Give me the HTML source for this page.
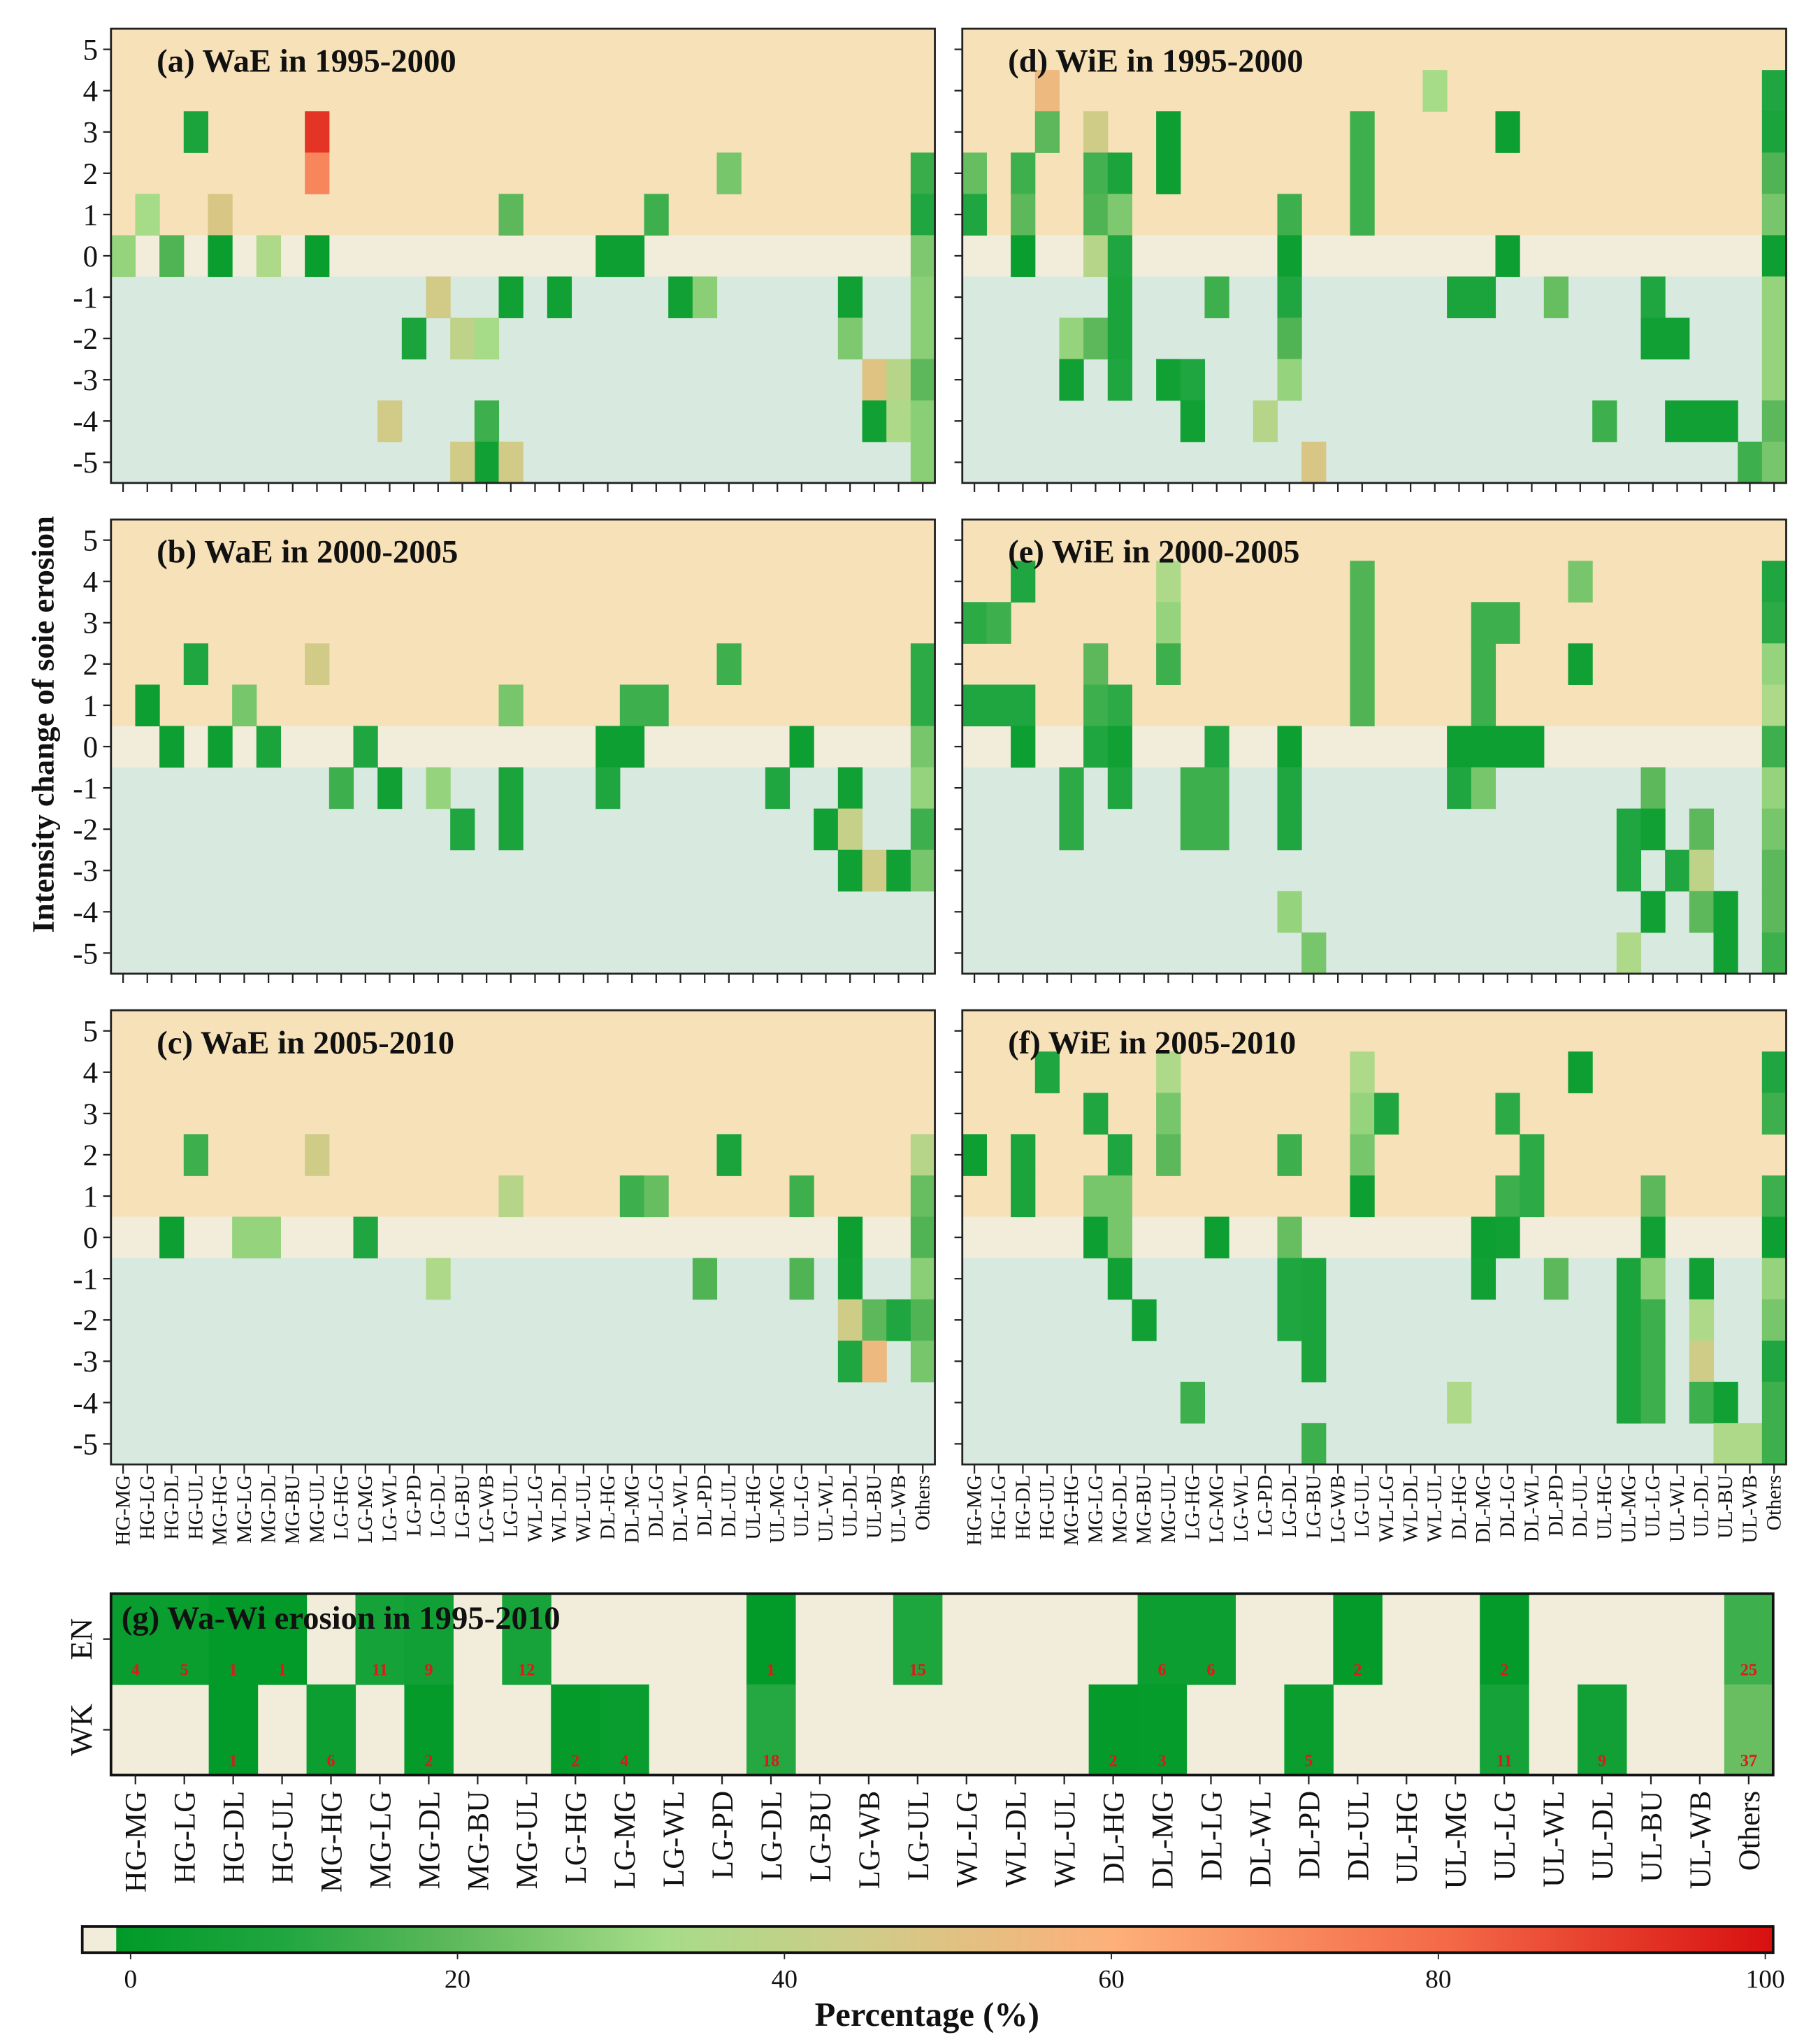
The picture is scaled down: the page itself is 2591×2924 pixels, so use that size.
<!DOCTYPE html>
<html><head><meta charset="utf-8"><style>
html,body{margin:0;padding:0;background:#fff}
svg{display:block}
text{font-family:"Liberation Serif",serif;fill:#111}
</style></head><body>
<svg id="chart" xmlns="http://www.w3.org/2000/svg" width="2591" height="2924" viewBox="0 0 1387 1566" preserveAspectRatio="none">
<defs>
<linearGradient id="cbg" x1="0" x2="1" y1="0" y2="0">
<stop offset="0" stop-color="#009a28"/><stop offset="0.1" stop-color="#20a640"/><stop offset="0.2" stop-color="#5cb85a"/>
<stop offset="0.33" stop-color="#a6dc88"/><stop offset="0.45" stop-color="#cfcc88"/><stop offset="0.6" stop-color="#fdb07a"/>
<stop offset="0.8" stop-color="#f46a48"/><stop offset="1" stop-color="#d81010"/>
</linearGradient>
</defs>
<g id="root"></g>
</svg>
<script>
const categories=["HG-MG","HG-LG","HG-DL","HG-UL","MG-HG","MG-LG","MG-DL","MG-BU","MG-UL","LG-HG","LG-MG","LG-WL","LG-PD","LG-DL","LG-BU","LG-WB","LG-UL","WL-LG","WL-DL","WL-UL","DL-HG","DL-MG","DL-LG","DL-WL","DL-PD","DL-UL","UL-HG","UL-MG","UL-LG","UL-WL","UL-DL","UL-BU","UL-WB","Others"];
const yTicks=[5,4,3,2,1,0,-1,-2,-3,-4,-5];
const cbTicks=[0,20,40,60,80,100];
// [column index, intensity change, percentage]
const panelA=[[3,3,8],[8,3,92],[8,2,72],[1,1,33],[4,1,48],[0,0,30],[2,0,18],[4,0,3],[6,0,35],[8,0,3],[16,1,20],[16,-1,5],[18,-1,5],[20,0,4],[21,0,4],[22,1,15],[25,2,25],[23,-1,5],[24,-1,28],[13,-1,46],[12,-2,8],[14,-2,40],[15,-2,33],[15,-4,15],[15,-5,5],[11,-4,46],[14,-5,46],[16,-5,46],[30,-1,5],[30,-2,26],[31,-3,50],[31,-4,5],[32,-3,38],[32,-4,35],[33,2,14],[33,1,10],[33,0,26],[33,-1,28],[33,-2,28],[33,-3,20],[33,-4,28],[33,-5,28]];
const panelD=[[0,2,22],[0,1,10],[2,2,15],[2,1,20],[2,0,3],[3,4,55],[3,3,20],[5,3,45],[5,2,16],[5,1,18],[5,0,38],[4,-2,30],[4,-3,5],[5,-2,20],[6,2,8],[6,1,26],[6,0,10],[6,-1,8],[6,-2,8],[6,-3,10],[8,3,4],[8,2,4],[8,-3,5],[9,-3,10],[9,-4,5],[10,-1,15],[12,-4,38],[13,1,15],[13,0,4],[13,-1,10],[13,-2,18],[13,-3,30],[14,-5,48],[16,3,15],[16,2,15],[16,1,15],[19,4,33],[20,-1,8],[21,-1,8],[22,3,4],[22,0,4],[24,-1,22],[26,-4,15],[28,-1,10],[28,-2,5],[29,-2,5],[29,-4,5],[30,-4,5],[31,-4,5],[32,-5,15],[33,4,10],[33,3,8],[33,2,18],[33,1,25],[33,0,4],[33,-1,30],[33,-2,30],[33,-3,30],[33,-4,20],[33,-5,25]];
const panelB=[[1,1,4],[2,0,4],[3,2,10],[4,0,4],[5,1,25],[6,0,8],[8,2,46],[9,-1,15],[10,0,10],[11,-1,5],[13,-1,30],[14,-2,10],[16,1,25],[16,-1,8],[16,-2,8],[20,0,4],[20,-1,10],[21,1,15],[21,0,4],[22,1,15],[25,2,15],[28,0,4],[27,-1,10],[29,-2,5],[30,-1,5],[30,-2,42],[30,-3,5],[31,-3,45],[32,-3,5],[33,2,12],[33,1,12],[33,0,25],[33,-1,30],[33,-2,15],[33,-3,25]];
const panelE=[[0,3,12],[0,1,10],[1,3,15],[1,1,10],[2,4,10],[2,1,10],[2,0,4],[5,2,20],[5,1,15],[5,0,10],[6,1,12],[6,0,5],[6,-1,10],[8,4,35],[8,3,30],[8,2,15],[4,-1,12],[4,-2,12],[9,-1,15],[9,-2,15],[10,0,10],[10,-1,15],[10,-2,15],[13,0,4],[13,-1,10],[13,-2,10],[13,-4,30],[14,-5,25],[16,4,18],[16,3,18],[16,2,18],[16,1,18],[21,3,15],[21,2,15],[21,1,15],[21,0,4],[22,3,15],[22,0,4],[20,0,4],[20,-1,10],[21,-1,25],[23,0,4],[25,4,25],[25,2,5],[27,-2,10],[27,-3,10],[27,-5,35],[28,-1,20],[28,-2,5],[28,-4,5],[29,-3,10],[30,-2,20],[30,-3,40],[30,-4,20],[31,-4,5],[31,-5,5],[33,4,10],[33,3,12],[33,2,30],[33,1,35],[33,0,15],[33,-1,30],[33,-2,25],[33,-3,20],[33,-4,20],[33,-5,15]];
const panelC=[[2,0,4],[3,2,15],[5,0,30],[6,0,30],[8,2,45],[10,0,10],[13,-1,35],[16,1,38],[21,1,15],[22,1,22],[24,-1,18],[25,2,8],[28,1,15],[28,-1,18],[30,0,4],[30,-1,5],[30,-2,45],[30,-3,10],[31,-2,20],[31,-3,55],[32,-2,10],[33,2,38],[33,1,22],[33,0,18],[33,-1,28],[33,-2,18],[33,-3,25]];
const panelF=[[0,2,4],[2,2,8],[2,1,8],[3,4,10],[5,3,10],[5,1,25],[5,0,4],[6,2,10],[6,1,25],[6,0,25],[6,-1,5],[7,-2,5],[8,4,35],[8,3,25],[8,2,20],[10,0,4],[9,-4,15],[13,2,15],[13,0,22],[13,-1,10],[13,-2,10],[14,-1,8],[14,-2,8],[14,-3,8],[14,-5,15],[16,4,35],[16,3,30],[16,2,25],[16,1,4],[17,3,10],[20,-4,35],[21,0,4],[21,-1,5],[22,3,12],[22,1,15],[22,0,5],[23,2,12],[23,1,12],[24,-1,20],[25,4,4],[27,-1,8],[27,-2,8],[27,-3,8],[27,-4,8],[28,1,20],[28,0,5],[28,-1,28],[28,-2,15],[28,-3,15],[28,-4,15],[30,-1,5],[30,-2,35],[30,-3,45],[30,-4,15],[31,-4,5],[31,-5,35],[32,-5,35],[33,4,10],[33,3,15],[33,1,15],[33,0,4],[33,-1,30],[33,-2,25],[33,-3,10],[33,-4,15],[33,-5,15]];
// panel g: [column, value]
const gEN=[[0,4],[1,5],[2,1],[3,1],[5,11],[6,9],[8,12],[13,1],[16,15],[21,6],[22,6],[25,2],[28,2],[33,25]];
const gWK=[[2,1],[4,6],[6,2],[9,2],[10,4],[13,18],[20,2],[21,3],[24,5],[28,11],[30,9],[33,37]];

const NS="http://www.w3.org/2000/svg";
const root=document.getElementById('root');
function el(tag,attrs,parent,txt){const e=document.createElementNS(NS,tag);for(const k in attrs)e.setAttribute(k,attrs[k]);if(txt!==undefined)e.textContent=txt;(parent||root).appendChild(e);return e;}
const stops=[[0,[0,154,40]],[10,[32,166,64]],[20,[92,184,90]],[33,[166,220,136]],[45,[207,204,136]],[60,[253,176,122]],[80,[244,106,72]],[100,[216,16,16]]];
function cscale(v){v=Math.max(0,Math.min(100,v));for(let i=1;i<stops.length;i++){if(v<=stops[i][0]){const a=stops[i-1],b=stops[i],t=(v-a[0])/(b[0]-a[0]);const c=a[1].map((x,j)=>Math.round(x+(b[1][j]-x)*t));return `rgb(${c[0]},${c[1]},${c[2]})`;}}return 'rgb(216,16,16)';}

const ROWH=348/11, PW=631;
function drawPanel(x0,y0,title,cells,name,showX,showY){
  const g=el('g',{});
  
  
  const cw=PW/categories.length;
  const yOf=v=>y0+(5-v)*ROWH;
  el('rect',{x:x0,y:y0,width:PW,height:yOf(0)-y0,fill:'#f6e1b8'},g);
  el('rect',{x:x0,y:yOf(0),width:PW,height:ROWH,fill:'#f2ecda'},g);
  el('rect',{x:x0,y:yOf(-1),width:PW,height:yOf(-6)-yOf(-1),fill:'#d8e9e0'},g);
  cells.forEach(c=>{
    const r=el('rect',{x:x0+c[0]*cw,y:yOf(c[1]),width:cw+0.3,height:ROWH+0.3,fill:cscale(c[2])},g);
    
    
  });
  el('rect',{x:x0,y:y0,width:PW,height:348,fill:'none',stroke:'#222','stroke-width':1.5},g);
  yTicks.forEach(v=>{
    const yc=yOf(v)+ROWH/2;
    el('line',{x1:x0-6,x2:x0,y1:yc,y2:yc,stroke:'#222','stroke-width':1.2},g);
    if(showY){
      const t=el('text',{x:x0-10,y:yc+8,'text-anchor':'end','font-size':23},g,String(v));
      
      
    }
  });
  categories.forEach((c,i)=>{
    const xc=x0+(i+0.5)*cw;
    el('line',{x1:xc,x2:xc,y1:y0+348,y2:y0+355,stroke:'#222','stroke-width':1.2},g);
    if(showX){
      const t=el('text',{x:0,y:0,'text-anchor':'end','font-size':16,transform:`translate(${xc+5},${y0+356}) rotate(-90)`},g,c);
      
      
    }
  });
  const tt=el('text',{x:x0+35,y:y0+33,'font-size':25,'font-weight':'bold'},g,title);
  
  
}
drawPanel(85,22,'(a) WaE in 1995-2000',panelA,'panel-a',false,true);
drawPanel(737,22,'(d) WiE in 1995-2000',panelD,'panel-d',false,false);
drawPanel(85,398,'(b) WaE in 2000-2005',panelB,'panel-b',false,true);
drawPanel(737,398,'(e) WiE in 2000-2005',panelE,'panel-e',false,false);
drawPanel(85,774,'(c) WaE in 2005-2010',panelC,'panel-c',true,true);
drawPanel(737,774,'(f) WiE in 2005-2010',panelF,'panel-f',true,false);

const yt=el('text',{x:0,y:0,'text-anchor':'middle','font-size':24,'font-weight':'bold',transform:'translate(41,555) rotate(-90)'},root,'Intensity change of soie erosion');



// panel g
(function(){
  const x0=85,y0=1221,W=1273,H=139,cw=W/categories.length,rh=H/2;
  const g=el('g',{});
  
  
  el('rect',{x:x0,y:y0,width:W,height:H,fill:'#f2ecda'},g);
  [[gEN,0],[gWK,1]].forEach(([arr,ri])=>{
    arr.forEach(c=>{
      const r=el('rect',{x:x0+c[0]*cw,y:y0+ri*rh,width:cw+0.3,height:rh+0.3,fill:cscale(c[1]*0.6)},g);
      
      
    });
  });
  [[gEN,0],[gWK,1]].forEach(([arr,ri])=>{
    arr.forEach(c=>{
      const t=el('text',{x:x0+(c[0]+0.5)*cw,y:y0+ri*rh+rh-7,'text-anchor':'middle','font-size':13,'font-weight':'bold',style:'fill:#e01818'},g,String(c[1]));
      
      
    });
  });
  el('rect',{x:x0,y:y0,width:W,height:H,fill:'none',stroke:'#111','stroke-width':2},g);
  ['EN','WK'].forEach((l,i)=>{
    const yc=y0+(i+0.5)*rh;
    el('line',{x1:x0-6,x2:x0,y1:yc,y2:yc,stroke:'#222','stroke-width':1.2},g);
    const t=el('text',{x:0,y:0,'text-anchor':'middle','font-size':24,transform:`translate(${x0-15},${yc}) rotate(-90)`},g,l);
    
    
  });
  categories.forEach((c,i)=>{
    const xc=x0+(i+0.5)*cw;
    el('line',{x1:xc,x2:xc,y1:y0+H,y2:y0+H+7,stroke:'#222','stroke-width':1.2},g);
    const t=el('text',{x:0,y:0,'text-anchor':'end','font-size':23,transform:`translate(${xc+8},${y0+H+12}) rotate(-90)`},g,c);
    
    
  });
  const tt=el('text',{x:x0+8,y:y0+27,'font-size':25,'font-weight':'bold'},g,'(g) Wa-Wi erosion in 1995-2010');
  
  
})();

// colorbar
(function(){
  const g=el('g',{});
  
  
  const x0=100,x1=1352,cx=v=>x0+(x1-x0)*v/100;
  el('rect',{x:63,y:1476,width:27,height:20,fill:'#f2ecda'},g);
  el('rect',{x:89,y:1476,width:1269,height:20,fill:'url(#cbg)'},g);
  el('rect',{x:63,y:1476,width:1295,height:20,fill:'none',stroke:'#111','stroke-width':2},g);
  cbTicks.forEach(v=>{
    el('line',{x1:cx(v),x2:cx(v),y1:1496,y2:1501,stroke:'#222'},g);
    const t=el('text',{x:cx(v),y:1523,'text-anchor':'middle','font-size':20},g,String(v));
    
    
  });
  const tt=el('text',{x:710,y:1552,'text-anchor':'middle','font-size':26,'font-weight':'bold'},g,'Percentage (%)');
  
  
})();
</script>
</body></html>
